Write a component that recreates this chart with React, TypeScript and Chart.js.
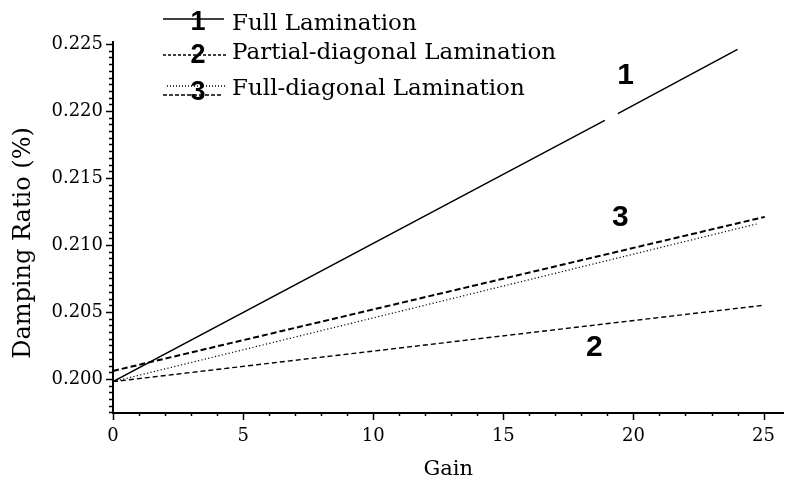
import React, { useEffect, useRef } from "react";
import { Chart, registerables } from "chart.js";

Chart.register(...registerables);

// ---- data ----
const fullGain = [0, 18.9, 19.15, 19.4, 24];
const fullDamping = [0.1998, 0.2193, null, 0.2198, 0.2246];

const partialGain = [0, 25];
const partialDamping = [0.1998, 0.2055];

const fullDiagDotGain = [0, 24.8];
const fullDiagDotDamping = [0.1998, 0.2116];

const fullDiagDashGain = [0, 25.05];
const fullDiagDashDamping = [0.2006, 0.2121];

const xMajorTicks = [0, 5, 10, 15, 20, 25];
const yMajorTicks = [0.2, 0.205, 0.21, 0.215, 0.22, 0.225];

const legendNumbers = ["1", "2", "3"];
const legendLabels = [
  "Full Lamination",
  "Partial-diagonal Lamination",
  "Full-diagonal Lamination",
];

const curveLabelText = ["1", "3", "2"];
const curveLabelGain = [19.7, 19.5, 18.5];
const curveLabelDamping = [0.2226, 0.212, 0.2023];

const xTitle = "Gain";
const yTitle = "Damping Ratio (%)";

const X_MIN = 0;
const X_MAX = 25.76;
const Y_MIN = 0.19746;
const Y_MAX = 0.22515;

const SERIF = "'DejaVu Serif', serif";
const SANS_BOLD = "bold 30px 'Liberation Sans', Arial, sans-serif";

const zip = (xs: number[], ys: (number | null)[]) =>
  xs.map((x, i) => ({ x, y: ys[i] }));

const decorPlugin = {
  id: "decor",
  afterDatasetsDraw(chart: any) {
    const { ctx, chartArea, scales } = chart;
    const xs = scales.x;
    const ys = scales.y;
    ctx.save();
    ctx.strokeStyle = "#000";
    ctx.fillStyle = "#000";
    ctx.setLineDash([]);

    // y ticks: minor every 0.0005, major every 0.005
    ctx.lineWidth = 1.5;
    for (let k = Math.ceil(Y_MIN / 0.0005); k <= Math.floor(Y_MAX / 0.0005 + 1e-6); k++) {
      const py = Math.round(ys.getPixelForValue(k * 0.0005)) + 0.5;
      const len = k % 10 === 0 ? 7 : 4;
      ctx.beginPath();
      ctx.moveTo(chartArea.left - len, py);
      ctx.lineTo(chartArea.left, py);
      ctx.stroke();
    }
    // x ticks: minor every 1, major every 5
    for (let k = 0; k <= Math.floor(X_MAX); k++) {
      const px = Math.round(xs.getPixelForValue(k)) + 0.5;
      const len = k % 5 === 0 ? 7 : 3;
      ctx.beginPath();
      ctx.moveTo(px, chartArea.bottom);
      ctx.lineTo(px, chartArea.bottom + len);
      ctx.stroke();
    }

    // y title
    ctx.save();
    ctx.translate(24, 243);
    ctx.rotate(-Math.PI / 2);
    ctx.font = `24px ${SERIF}`;
    ctx.textAlign = "center";
    ctx.textBaseline = "middle";
    ctx.fillText(yTitle, 0, 0);
    ctx.restore();

    // legend
    const lx0 = 163;
    const lx1 = 224;
    const rowLineY = [19, 55, 86];
    const rowTextBase = [30, 59, 95];
    const rowNumY = [23, 56, 93];
    // row 1 solid
    ctx.lineWidth = 1.4;
    ctx.beginPath();
    ctx.moveTo(lx0, rowLineY[0]);
    ctx.lineTo(lx1, rowLineY[0]);
    ctx.stroke();
    // row 2 dashed
    ctx.setLineDash([3, 2]);
    ctx.beginPath();
    ctx.moveTo(lx0, rowLineY[1]);
    ctx.lineTo(lx1 + 3, rowLineY[1]);
    ctx.stroke();
    // row 3 dotted + dashed
    ctx.setLineDash([1, 2]);
    ctx.beginPath();
    ctx.moveTo(lx0 + 4, rowLineY[2]);
    ctx.lineTo(lx1 + 1, rowLineY[2]);
    ctx.stroke();
    ctx.setLineDash([4, 2]);
    ctx.lineWidth = 1.5;
    ctx.beginPath();
    ctx.moveTo(lx0, rowLineY[2] + 9);
    ctx.lineTo(lx1 - 2, rowLineY[2] + 9);
    ctx.stroke();
    ctx.setLineDash([]);

    ctx.font = "bold 27px 'Liberation Sans', Arial, sans-serif";
    ctx.textAlign = "center";
    ctx.textBaseline = "middle";
    legendNumbers.forEach((n, i) => ctx.fillText(n, 198, rowNumY[i]));

    ctx.font = `23px ${SERIF}`;
    ctx.textAlign = "left";
    ctx.textBaseline = "alphabetic";
    legendLabels.forEach((t, i) => ctx.fillText(t, 232, rowTextBase[i]));

    // curve labels
    ctx.font = SANS_BOLD;
    ctx.textAlign = "center";
    ctx.textBaseline = "middle";
    curveLabelText.forEach((t, i) => {
      ctx.fillText(
        t,
        xs.getPixelForValue(curveLabelGain[i]),
        ys.getPixelForValue(curveLabelDamping[i])
      );
    });
    ctx.restore();
  },
};

export default function App() {
  const ref = useRef<HTMLCanvasElement | null>(null);

  useEffect(() => {
    document.body.style.margin = "0";
    const canvas = ref.current;
    if (!canvas) return;
    const chart = new Chart(canvas, {
      type: "line",
      data: {
        datasets: [
          {
            label: legendLabels[0],
            data: zip(fullGain, fullDamping),
            borderColor: "#000",
            borderWidth: 1.5,
            spanGaps: false,
          },
          {
            label: legendLabels[1],
            data: zip(partialGain, partialDamping),
            borderColor: "#000",
            borderWidth: 1.4,
            borderDash: [5, 3],
          },
          {
            label: legendLabels[2] + " (dotted)",
            data: zip(fullDiagDotGain, fullDiagDotDamping),
            borderColor: "#000",
            borderWidth: 1.2,
            borderDash: [1.2, 2.3],
          },
          {
            label: legendLabels[2] + " (dashed)",
            data: zip(fullDiagDashGain, fullDiagDashDamping),
            borderColor: "#000",
            borderWidth: 2,
            borderDash: [6, 3],
          },
        ],
      },
      options: {
        animation: false,
        responsive: false,
        maintainAspectRatio: false,
        parsing: true,
        layout: { padding: { top: 42, left: 0, right: 0, bottom: 0 } },
        plugins: { legend: { display: false }, tooltip: { enabled: false } },
        elements: { point: { radius: 0 }, line: { tension: 0 } },
        scales: {
          x: {
            type: "linear",
            min: X_MIN,
            max: X_MAX,
            grid: { display: false, drawTicks: false },
            border: { display: true, color: "#000", width: 2 },
            afterBuildTicks: (s: any) => {
              s.ticks = xMajorTicks.map((v) => ({ value: v }));
            },
            afterFit: (s: any) => {
              s.height = 69;
            },
            ticks: {
              padding: 13,
              color: "#000",
              font: { family: SERIF, size: 18 },
              maxRotation: 0,
              autoSkip: false,
              callback: (v: any) => String(v),
            },
            title: {
              display: true,
              text: xTitle,
              color: "#000",
              font: { family: SERIF, size: 21 },
              padding: { top: 0, bottom: 0 },
            },
          },
          y: {
            type: "linear",
            min: Y_MIN,
            max: Y_MAX,
            grid: { display: false, drawTicks: false },
            border: { display: true, color: "#000", width: 2 },
            afterBuildTicks: (s: any) => {
              s.ticks = yMajorTicks.map((v) => ({ value: v }));
            },
            afterFit: (s: any) => {
              s.width = 113;
            },
            ticks: {
              padding: 10,
              color: "#000",
              font: { family: SERIF, size: 18 },
              autoSkip: false,
              callback: (v: any) => Number(v).toFixed(3),
            },
          },
        },
      },
      plugins: [decorPlugin],
    } as any);
    return () => chart.destroy();
  }, []);

  return (
    <canvas
      ref={ref}
      width={788}
      height={482}
      style={{ display: "block", width: 788, height: 482 }}
    />
  );
}
